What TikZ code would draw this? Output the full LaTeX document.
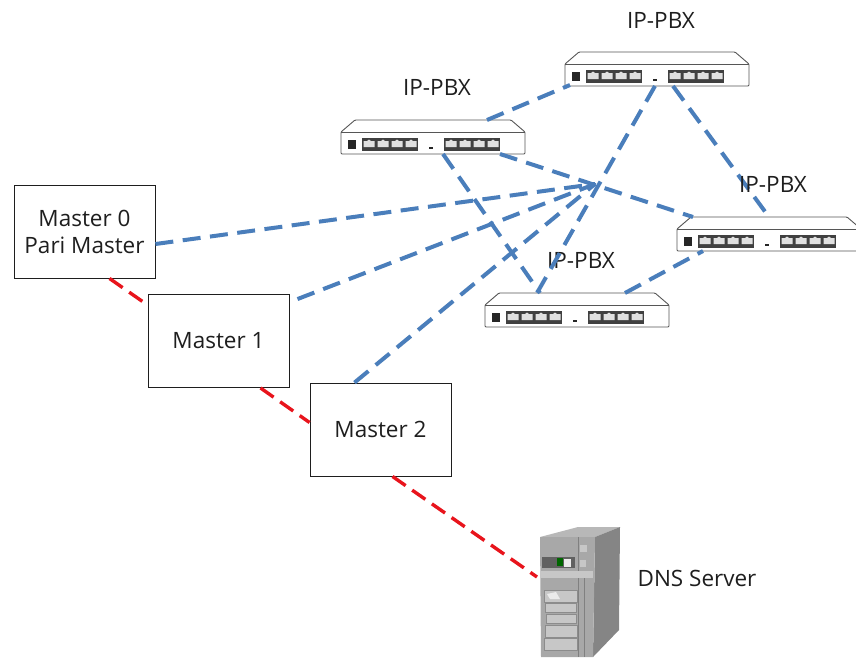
\documentclass[tikz,border=0pt]{standalone}
\usepackage{fontspec}
\setmainfont{Open Sans}
\definecolor{linkblue}{HTML}{4A7EBB}
\definecolor{linkred}{HTML}{E8141C}
\definecolor{ink}{HTML}{1E1E1E}
\tikzset{
masterbox/.style={draw=ink,line width=0.9pt,fill=white,minimum width=141,minimum height=93,inner sep=0pt,align=center,font=\fontsize{22.5}{27}\selectfont,text=ink},
label/.style={font=\fontsize{22.5}{24}\selectfont,text=ink,inner sep=0pt},
bluelink/.style={draw=linkblue,line width=4pt,dash pattern=on 18pt off 9.5pt},
redlink/.style={draw=linkred,line width=3.4pt,dash pattern=on 16pt off 8pt},
pbxbox/.style={minimum width=184,minimum height=34,inner sep=0pt,outer sep=0pt},
case/.style={draw=ink!75,line width=0.9pt,fill=white,rounded corners=1pt},
bay/.style={draw=black!45,line width=0.6pt,fill=black!22}
}
\newcommand{\pbx}[3]{
\node[pbxbox] (#1) at (#2,#3) {};
\begin{scope}[shift={(#2-92,#3-17)}]
\draw[case] (0,12) -- (14,0) -- (170,0) -- (184,12) -- (184,34) -- (0,34) -- cycle;
\draw[draw=ink!75,line width=0.9pt] (0,12) -- (184,12);
\fill[black!85] (7,20) rectangle (15,29);
\foreach \i in {0,1,2,3} {
\fill[black!75] (21+14*\i,18) rectangle (35+14*\i,31);
\fill[black!12] (22.5+14*\i,21) -- (26+14*\i,21) -- (28+14*\i,19.5) -- (30+14*\i,21) -- (33.5+14*\i,21) -- (33.5+14*\i,27) -- (22.5+14*\i,27) -- cycle;
\fill[black!75] (103+14*\i,18) rectangle (117+14*\i,31);
\fill[black!12] (104.5+14*\i,21) -- (108+14*\i,21) -- (110+14*\i,19.5) -- (112+14*\i,21) -- (115.5+14*\i,21) -- (115.5+14*\i,27) -- (104.5+14*\i,27) -- cycle;
}
\fill[black!85] (88,27) rectangle (92,29);
\end{scope}
}
\begin{document}
\begin{tikzpicture}[x=1pt,y=-1pt]
\useasboundingbox (0,0) rectangle (856,657);
\coordinate (hub) at (595,184);

% switches
\pbx{pbxa}{433}{137}
\pbx{pbxb}{657}{69}
\pbx{pbxc}{769}{234}
\pbx{pbxd}{577}{310}
\node[label] (pbxalabel) at (437,87) {IP-PBX};
\node[label] (pbxblabel) at (661,20) {IP-PBX};
\node[label] (pbxdlabel) at (581,260) {IP-PBX};

% masters
\node[masterbox] (m0) at (84.5,231.5) {Master 0\\Pari Master};
\node[masterbox] (m1) at (218.5,341) {Master 1};
\node[masterbox] (m2) at (380.5,429.5) {Master 2};

% server
\begin{scope}[line join=round]
\fill[black!28] (540,537) -- (578,527) -- (620,527) -- (595,537) -- cycle;
\fill[black!48] (595,537) -- (620,527) -- (619,630) -- (593,657) -- cycle;
\fill[black!34] (540,537) -- (595,537) -- (593,657) -- (541,657) -- cycle;
\draw[black!50,line width=0.6pt] (578,537) -- (578,657) (584,578) -- (584,657);
\fill[black!22] (540,571) -- (593,571) -- (593,578) -- (540,578) -- cycle;
\fill[black!22] (580,545) rectangle (587,552);
\fill[black!22] (580,560) rectangle (586,567);
\fill[black!62] (542,557) rectangle (575,568);
\fill[green!40!black] (557,558) rectangle (563,566);
\fill[black!8] (564,559) rectangle (571,567);
\draw[bay] (544,590) rectangle (577,602);
\fill[black!8] (547,594) -- (556,592) -- (560,599) -- (550,599) -- cycle;
\draw[bay] (545,603) rectangle (576,612);
\draw[bay] (546,614) rectangle (576,623);
\draw[bay] (545,625) rectangle (577,637);
\draw[bay] (544,638) rectangle (577,650);
\end{scope}
\node[inner sep=0pt] (srv) at (567,592) {};
\node[label] (srvlabel) at (697,578) {DNS Server};

% links
\draw[bluelink] ([yshift=-12.5]m0.east) -- (hub);
\draw[bluelink] ([xshift=79,yshift=-5]m1.north) -- (hub);
\draw[bluelink] ([xshift=-26]m2.north) -- (hub);
\draw[bluelink] ([xshift=54]pbxa.north) -- ([xshift=-87,yshift=1]pbxb.south);
\draw[bluelink] ([xshift=67]pbxa.south) -- ([xshift=-76]pbxc.north);
\draw[bluelink] ([xshift=10]pbxa.south) -- ([xshift=-37]pbxd.north);
\draw[bluelink] ([xshift=-2]pbxb.south) -- ([xshift=-40]pbxd.north);
\draw[bluelink] ([xshift=16]pbxb.south) -- (pbxc.north);
\draw[bluelink] ([xshift=48]pbxd.north) -- ([xshift=-66]pbxc.south);
\draw[redlink] ([xshift=25]m0.south) -- ([yshift=36]m1.west);
\draw[redlink] ([xshift=42]m1.south) -- ([yshift=7]m2.west);
\draw[redlink] ([xshift=12]m2.south) -- ([xshift=-30,yshift=15]srv.center);
\node[label] (pbxclabel) at (773,184) {IP-PBX};
\end{tikzpicture}
\end{document}
